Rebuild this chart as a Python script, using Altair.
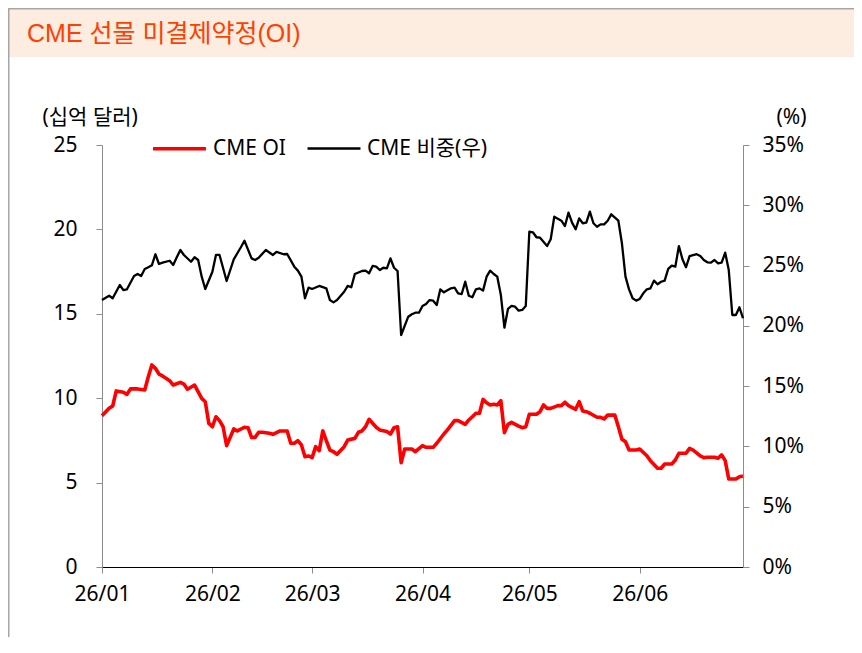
import altair as alt
import pandas as pd

# ---- data ----
series_names = ["CME OI", "CME 비중(우)"]

# CME OI (십억 달러), day offsets from 2026-01-01
oi_days = [0, 2, 3, 4, 6, 7, 8, 10, 12, 13, 14, 15, 16, 17, 19, 20, 22, 23, 24, 26,
           28, 29, 30, 31, 32, 33, 34, 35, 37, 38, 40, 41, 42, 43, 44, 45, 47, 48, 50, 52,
           53, 54, 55, 56, 57, 58, 59, 60, 61, 62, 63, 64, 65, 66, 68, 69, 71, 72, 73, 74,
           75, 77, 78, 80, 81, 82, 83, 84, 85, 87, 88, 90, 91, 93, 94, 96, 97, 99, 100, 102,
           103, 104, 105, 106, 107, 108, 109, 110, 111, 112, 113, 114, 115, 117, 118, 119, 120, 122, 123, 124,
           125, 126, 128, 129, 130, 131, 133, 134, 135, 136, 137, 139, 140, 141, 142, 143, 144, 145, 146, 147,
           148, 150, 151, 153, 154, 156, 157, 158, 160, 161, 162, 164, 165, 166, 168, 169, 170, 172, 173, 174,
           175, 176, 178, 179, 180]
oi_vals = [8.96, 9.40, 9.54, 10.43, 10.35, 10.23, 10.55, 10.55, 10.49, 11.27, 11.97, 11.77, 11.43, 11.32, 11.04, 10.78, 10.94, 10.84, 10.53, 10.78,
           9.99, 9.79, 8.51, 8.31, 8.90, 8.67, 8.31, 7.19, 8.18, 8.06, 8.28, 8.25, 7.68, 7.68, 7.98, 7.98, 7.92, 7.86, 8.06, 8.06,
           7.33, 7.33, 7.48, 7.23, 6.53, 6.58, 6.48, 7.13, 6.89, 8.07, 7.48, 6.93, 6.83, 6.68, 7.13, 7.52, 7.62, 7.98, 8.06, 8.31,
           8.75, 8.28, 8.12, 8.02, 7.88, 8.25, 8.31, 6.18, 6.99, 6.99, 6.83, 7.19, 7.09, 7.09, 7.33, 7.88, 8.12, 8.67, 8.67, 8.45,
           8.71, 8.90, 9.11, 9.11, 9.93, 9.73, 9.60, 9.64, 9.60, 9.85, 7.96, 8.45, 8.57, 8.35, 8.25, 8.31, 9.05, 9.05, 9.20, 9.60,
           9.40, 9.40, 9.56, 9.56, 9.76, 9.56, 9.34, 9.79, 9.24, 9.20, 9.11, 8.87, 8.87, 8.77, 9.00, 9.00, 9.00, 8.31, 7.57, 7.42,
           6.93, 6.93, 6.99, 6.59, 6.30, 5.85, 5.85, 6.10, 6.10, 6.34, 6.74, 6.74, 7.03, 6.93, 6.58, 6.48, 6.50, 6.50, 6.44, 6.64,
           6.30, 5.21, 5.21, 5.35, 5.39]

# CME 비중 (%), day offsets from 2026-01-01
share_days = [0, 2, 3, 5, 6, 7, 9, 10, 11, 12, 13, 14, 15, 16, 17, 19, 20, 21, 22, 23,
              25, 26, 27, 28, 29, 31, 32, 33, 35, 37, 38, 39, 40, 42, 43, 44, 46, 48, 49, 51,
              52, 54, 55, 56, 57, 58, 59, 61, 63, 64, 65, 66, 68, 69, 70, 71, 73, 74, 75, 76,
              77, 78, 79, 80, 81, 82, 83, 84, 86, 87, 88, 89, 90, 91, 92, 93, 94, 95, 96, 98,
              99, 100, 101, 102, 103, 104, 105, 106, 107, 108, 109, 110, 111, 112, 113, 114, 115, 116, 117, 118,
              119, 120, 121, 122, 123, 125, 126, 127, 129, 130, 131, 132, 133, 134, 135, 136, 137, 138, 139, 140,
              141, 142, 143, 145, 146, 147, 148, 149, 150, 151, 152, 153, 154, 155, 156, 157, 158, 159, 160, 161,
              162, 163, 164, 165, 167, 168, 169, 170, 171, 172, 173, 174, 175, 176, 177, 178, 179, 180]
share_vals = [22.14, 22.50, 22.29, 23.39, 22.97, 23.03, 24.14, 24.30, 24.14, 24.72, 24.86, 25.02, 25.94, 25.13, 25.24, 25.40, 25.05, 25.69, 26.29, 25.88,
              25.32, 25.69, 25.46, 24.08, 23.06, 24.49, 25.88, 25.88, 23.72, 25.52, 26.02, 26.52, 27.06, 25.60, 25.46, 25.65, 26.29, 25.88, 26.13, 25.94,
              25.96, 24.91, 24.58, 24.08, 22.29, 23.17, 23.06, 23.31, 23.11, 22.14, 21.95, 22.14, 22.83, 23.31, 23.20, 24.30, 24.55, 24.58, 24.36, 24.97,
              24.91, 24.63, 24.82, 24.77, 25.60, 24.82, 24.55, 19.24, 20.76, 20.96, 21.09, 21.09, 21.65, 21.81, 22.14, 22.09, 21.73, 23.03, 22.78, 23.11,
              23.17, 22.70, 22.64, 23.66, 22.50, 22.37, 23.03, 23.11, 22.92, 24.08, 24.58, 24.30, 24.08, 22.56, 19.85, 21.40, 21.65, 21.59, 21.26, 21.32,
              21.65, 27.81, 27.76, 27.35, 27.31, 26.62, 27.18, 29.05, 28.72, 28.28, 29.39, 28.56, 28.01, 28.92, 28.51, 28.56, 29.47, 28.51, 28.22, 28.42,
              28.42, 28.72, 29.25, 28.72, 26.85, 24.08, 23.03, 22.29, 22.09, 22.23, 22.70, 23.03, 23.11, 23.75, 23.45, 23.66, 23.75, 24.72, 24.99, 24.91,
              26.62, 25.52, 24.86, 25.79, 25.94, 25.79, 25.46, 25.27, 25.24, 25.46, 25.19, 25.24, 26.07, 24.63, 20.90, 20.90, 21.54, 20.63]

left_ticks = [0, 5, 10, 15, 20, 25]
right_ticks = [0, 5, 10, 15, 20, 25, 30, 35]
tick_months = [1, 2, 3, 4, 5, 6]

title_text = "CME 선물 미결제약정(OI)"
left_title = "(십억 달러)"
right_title = "(%)"

# ---- build table ----
base_date = pd.Timestamp("2026-01-01")


def to_dates(days):
    return [(base_date + pd.Timedelta(days=d)).strftime("%Y-%m-%d") for d in days]


df = pd.concat([
    pd.DataFrame({"date": to_dates(oi_days), "value": oi_vals, "series": series_names[0]}),
    pd.DataFrame({"date": to_dates(share_days), "value": share_vals, "series": series_names[1]}),
], ignore_index=True)

one_row = pd.DataFrame({"k": [0]})

FONT = "Noto Sans, Noto Sans CJK KR, sans-serif"
TITLE_FONT = "Liberation Sans, Noto Sans CJK KR, sans-serif"
W, H = 641, 422
PL, PT, PR, PB = 94, 137, 111, 70
AXIS_GRAY = "#8c8c8c"

legend_params = dict(
    orient="none", legendX=49, legendY=-25, direction="horizontal",
    title=None, symbolType="stroke", symbolSize=2800,
    labelFont=FONT, labelFontSize=21, labelColor="#000000",
    labelOffset=5, columnPadding=16, padding=0,
)

x_enc = alt.X(
    "date:T",
    scale=alt.Scale(
        type="utc",
        domain=[alt.DateTime(year=2026, month=1, date=1, utc=True),
                alt.DateTime(year=2026, month=6, date=30, utc=True)],
    ),
    axis=alt.Axis(
        title=None,
        values=[alt.DateTime(year=2026, month=m, date=1, utc=True) for m in tick_months],
        format="%y/%m", labelFlush=False, labelOverlap=False,
        tickSize=6, labelPadding=10,
        domainColor="#000000", tickColor=AXIS_GRAY, grid=False,
        labelFont=FONT, labelFontSize=21, labelColor="#000000",
    ),
)

color_enc = alt.Color(
    "series:N",
    scale=alt.Scale(domain=series_names, range=["#FF0000", "#000000"]),
    legend=alt.Legend(**legend_params),
)
width_enc = alt.StrokeWidth(
    "series:N",
    scale=alt.Scale(domain=series_names, range=[3.6, 2.3]),
    legend=alt.Legend(**legend_params),
)

banner = alt.Chart(one_row).mark_rect(fill="#FDEDE0").encode(
    x=alt.value(-PL), x2=alt.value(W + PR), y=alt.value(-PT), y2=alt.value(-PT + 49)
)
top_border = alt.Chart(one_row).mark_rule(color="#A6A6A6", strokeWidth=1.5).encode(
    x=alt.value(-PL), x2=alt.value(W + PR), y=alt.value(-PT + 0.75)
)
left_border = alt.Chart(one_row).mark_rule(color="#A6A6A6", strokeWidth=1.5).encode(
    x=alt.value(-PL + 0.75), y=alt.value(-PT), y2=alt.value(H + PB)
)
title = alt.Chart(one_row).mark_text(
    text=title_text, align="left", baseline="middle",
    font=TITLE_FONT, fontSize=25, color="#FF4000",
).encode(x=alt.value(-75), y=alt.value(-111))

oi_line = alt.Chart(df).transform_filter(
    alt.datum.series == series_names[0]
).mark_line(strokeJoin="round").encode(
    x=x_enc,
    y=alt.Y(
        "value:Q",
        scale=alt.Scale(domain=[0, 25], nice=False),
        axis=alt.Axis(
            values=left_ticks, title=left_title, titleAngle=0,
            titleX=-60, titleY=-28, titleAlign="left", titleBaseline="middle",
            titleFont=FONT, titleFontSize=21, titleFontWeight="normal", titleColor="#000000",
            tickSize=6, labelPadding=19, domainColor=AXIS_GRAY, tickColor=AXIS_GRAY, grid=False,
            labelFont=FONT, labelFontSize=21, labelColor="#000000",
        ),
    ),
    color=color_enc,
    strokeWidth=width_enc,
)

share_line = alt.Chart(df).transform_filter(
    alt.datum.series == series_names[1]
).mark_line(strokeJoin="round").encode(
    x=x_enc,
    y=alt.Y(
        "value:Q",
        scale=alt.Scale(domain=[0, 35], nice=False),
        axis=alt.Axis(
            orient="right", values=right_ticks, labelExpr="datum.value + '%'",
            title=right_title, titleAngle=0,
            titleX=33, titleY=-28, titleAlign="left", titleBaseline="middle",
            titleFont=FONT, titleFontSize=21, titleFontWeight="normal", titleColor="#000000",
            tickSize=6, labelPadding=13, domainColor=AXIS_GRAY, tickColor=AXIS_GRAY, grid=False,
            labelFont=FONT, labelFontSize=21, labelColor="#000000",
        ),
    ),
    color=color_enc,
    strokeWidth=width_enc,
)

chart = alt.layer(
    banner, top_border, left_border, title, oi_line, share_line
).resolve_scale(y="independent").properties(
    width=W, height=H,
    autosize=alt.AutoSizeParams(type="none"),
    padding={"left": PL, "top": PT, "right": PR, "bottom": PB},
    background="#FFFFFF",
).configure_view(stroke=None)

chart.save("out.html", embed_options={"renderer": "svg", "actions": False})
